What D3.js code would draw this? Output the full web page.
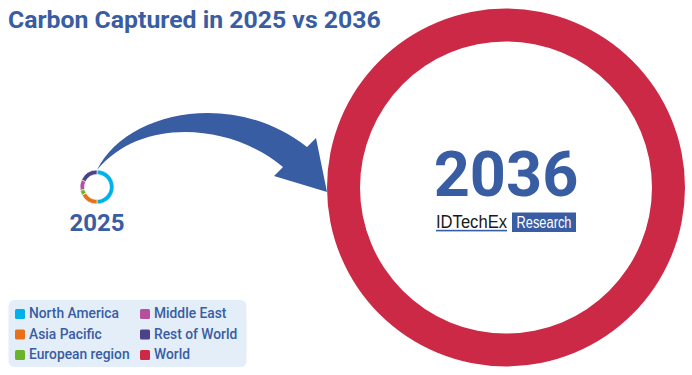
<!DOCTYPE html>
<html><head><meta charset="utf-8">
<script src="https://cdn.jsdelivr.net/npm/d3@7"></script>
<style>
html,body{margin:0;padding:0;background:#fff;}
svg{display:block;font-family:Roboto,"Noto Sans",sans-serif;}
</style></head>
<body><svg id="chart" width="692" height="375"></svg>
<script>
const title = "Carbon Captured in 2025 vs 2036";
const regions2025 = ["North America","Asia Pacific","European region","Middle East","Rest of World"];
const values2025 = [50, 17, 5, 10, 18];
const regions2036 = ["World"];
const values2036 = [100];
const yearLabels = ["2025","2036"];
const legendItems = ["North America","Asia Pacific","European region","Middle East","Rest of World","World"];
const legendColors = ["#00b0e8","#e8701a","#6ab42d","#b84f9d","#4b4287","#cc2946"];

const blue = "#395da3";
const svg = d3.select("#chart");
const color = d3.scaleOrdinal().domain(legendItems).range(legendColors);

svg.append("text").attr("x",8).attr("y",28).attr("fill",blue)
  .attr("font-size",24.8).attr("font-weight",700).text(title);

// Arrow
const arrowPath = "M97,170 C125,112 232,88 307,147 L316,138 L327,192 L274,176 L283,167 C232,124 142,116 97,170 Z";
svg.append("path").attr("d",arrowPath).attr("fill",blue);

const pie = d3.pie().sort(null).value(d=>d.v);

// small donut 2025
const small = svg.append("g").attr("transform","translate(97,187)");
const arcS = d3.arc().innerRadius(12.6).outerRadius(17);
small.selectAll("path").data(pie(regions2025.map((r,i)=>({r,v:values2025[i]}))))
  .join("path").attr("d",arcS).attr("fill",d=>color(d.data.r))
  .attr("stroke","#fff").attr("stroke-width",0.6);
svg.append("text").attr("x",97).attr("y",231).attr("text-anchor","middle")
  .attr("fill",blue).attr("font-size",24).attr("font-weight",700).text(yearLabels[0]);

// big donut 2036
const big = svg.append("g").attr("transform","translate(506,187.5)");
const arcB = d3.arc().innerRadius(146).outerRadius(179);
big.selectAll("path").data(pie(regions2036.map((r,i)=>({r,v:values2036[i]}))))
  .join("path").attr("d",arcB).attr("fill",d=>color(d.data.r));
big.append("text").attr("x",0).attr("y",8.5).attr("text-anchor","middle")
  .attr("fill",blue).attr("font-size",63).attr("font-weight",700).text(yearLabels[1]);

// IDTechEx logo
const logo = svg.append("g");
logo.append("text").attr("x",436).attr("y",227.5).attr("fill","#1a1a1a")
  .attr("font-family","'Liberation Sans',Arial,sans-serif").attr("font-size",17.5)
  .attr("textLength",71).attr("lengthAdjust","spacingAndGlyphs").text("IDTechEx");
logo.append("rect").attr("x",436).attr("y",229.8).attr("width",71).attr("height",1.6).attr("fill",blue);
logo.append("rect").attr("x",512).attr("y",212.5).attr("width",64).attr("height",19.5).attr("fill",blue);
logo.append("text").attr("x",544).attr("y",227.5).attr("text-anchor","middle").attr("fill","#fff")
  .attr("font-family","'Liberation Sans',Arial,sans-serif").attr("font-size",16)
  .attr("textLength",55).attr("lengthAdjust","spacingAndGlyphs").text("Research");

// Legend
const lg = svg.append("g");
lg.append("rect").attr("x",8.5).attr("y",300).attr("width",238).attr("height",67)
  .attr("rx",6).attr("fill","#e3eef8");
const items = lg.selectAll("g.item").data(legendItems).join("g").attr("class","item")
  .attr("transform",(d,i)=>`translate(${i<3?15:140},${309 + (i%3)*20.5})`);
items.append("rect").attr("width",10).attr("height",10).attr("rx",1.5).attr("fill",d=>color(d));
items.append("text").attr("x",14).attr("y",9.3).attr("fill",blue)
  .attr("font-size",13.8).attr("font-weight",500).text(d=>d);
</script></body></html>
